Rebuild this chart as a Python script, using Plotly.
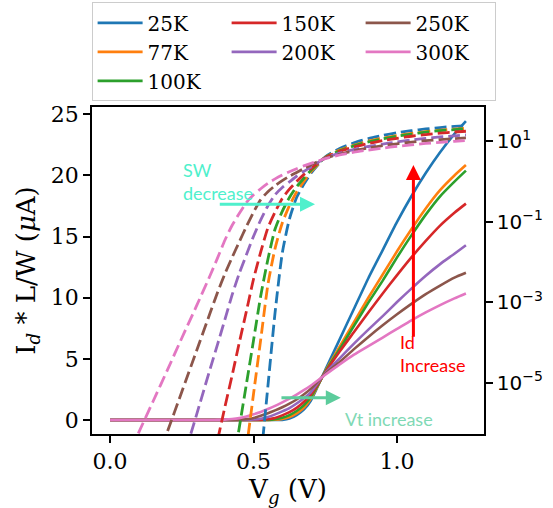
import plotly.graph_objects as go

# Gate voltage grid (V)
V = [0.00, 0.05, 0.10, 0.15, 0.20, 0.25, 0.30, 0.35, 0.375, 0.40, 0.425, 0.45, 0.475,
     0.50, 0.525, 0.55, 0.575, 0.60, 0.625, 0.65, 0.675, 0.70, 0.75, 0.80, 0.85, 0.90,
     0.95, 1.00, 1.05, 1.10, 1.15, 1.20, 1.24]

temps = ["25K", "77K", "100K", "150K", "200K", "250K", "300K"]
colors = ["#1f77b4", "#ff7f0e", "#2ca02c", "#d62728", "#9467bd", "#8c564b", "#e377c2"]

# Id * L/W (uA)
I_25K = [1e-12, 1e-12, 1e-12, 1e-12, 1e-12, 1e-12, 1e-12, 1e-12, 1e-12, 1e-12, 1e-12, 1e-12, 2.5e-11,
         1.8e-9, 1.2e-7, 8.3e-6, 5.6e-4, 0.0166, 0.117, 0.40, 0.85, 1.6, 4.1, 6.6, 9.1, 11.6,
         13.9, 16.2, 18.3, 20.2, 21.9, 23.4, 24.45]
I_77K = [1e-12, 1e-12, 1e-12, 1e-12, 1e-12, 1e-12, 1e-12, 1e-12, 1e-12, 2e-11, 4.5e-10, 1e-8, 2.3e-7,
         5.4e-6, 1.2e-4, 2.75e-3, 0.0219, 0.0933, 0.251, 0.55, 1.0, 1.75, 4.0, 6.0, 8.0, 10.0,
         11.9, 13.8, 15.6, 17.3, 18.8, 20.0, 20.85]
I_100K = [1e-12, 1e-12, 1e-12, 1e-12, 1e-12, 1e-12, 1e-12, 3.2e-11, 4e-10, 5e-9, 6.2e-8, 7.6e-7, 9.3e-6,
          1.15e-4, 1.45e-3, 0.0117, 0.066, 0.182, 0.40, 0.74, 1.2, 1.9, 3.95, 5.8, 7.7, 9.6,
          11.4, 13.3, 15.1, 16.8, 18.3, 19.5, 20.4]
I_150K = [1e-12, 1e-12, 1e-12, 1e-12, 1e-12, 4e-11, 1.6e-9, 6.2e-8, 3.9e-7, 2.5e-6, 1.5e-5, 9.8e-5, 6e-4,
          3.8e-3, 0.0178, 0.0708, 0.174, 0.38, 0.645, 1.0, 1.48, 2.09, 3.9, 5.6, 7.2, 8.8,
          10.35, 11.85, 13.3, 14.65, 15.9, 16.95, 17.7]
I_200K = [1e-12, 1e-12, 2.5e-11, 4e-10, 6.2e-9, 9.8e-8, 1.5e-6, 2.4e-5, 9.3e-5, 3.7e-4, 1.5e-3, 5.2e-3, 0.0151,
          0.0437, 0.112, 0.251, 0.468, 0.708, 0.977, 1.35, 1.78, 2.29, 3.85, 5.05, 6.25, 7.4,
          8.5, 9.65, 10.75, 11.8, 12.75, 13.6, 14.3]
I_250K = [6.8e-11, 6.6e-10, 6.5e-9, 6.3e-8, 6.2e-7, 6.0e-6, 5.9e-5, 5.8e-4, 1.8e-3, 5.1e-3, 0.0129, 0.0316, 0.076,
          0.174, 0.355, 0.56, 0.79, 1.05, 1.35, 1.68, 2.09, 2.57, 3.8, 4.75, 5.8, 6.8,
          7.75, 8.65, 9.5, 10.3, 11.0, 11.65, 12.05]
I_300K = [1.6e-8, 9.5e-8, 5.9e-7, 3.5e-6, 2.1e-5, 1.3e-4, 7.8e-4, 4.9e-3, 0.0129, 0.0347, 0.081, 0.160, 0.30,
          0.47, 0.66, 0.90, 1.16, 1.45, 1.75, 2.08, 2.44, 2.83, 3.7, 4.55, 5.35, 6.05,
          6.75, 7.45, 8.15, 8.8, 9.4, 9.95, 10.35]

series = [I_25K, I_77K, I_100K, I_150K, I_200K, I_250K, I_300K]
# legend fills column-wise in the reference (3 columns)
legend_rank = [1, 4, 7, 2, 5, 3, 6]

left_ticks = [0, 5, 10, 15, 20, 25]
right_ticks = [1e-5, 1e-3, 1e-1, 1e1]
right_labels = ["10<sup>\u22125</sup>", "10<sup>\u22123</sup>", "10<sup>\u22121</sup>", "10<sup>1</sup>"]
x_ticks = [0.0, 0.5, 1.0]
x_labels = ["0.0", "0.5", "1.0"]

fig = go.Figure()
for name, col, I, rk in zip(temps, colors, series, legend_rank):
    fig.add_trace(go.Scatter(x=V, y=I, mode="lines", name=name, legendrank=rk,
                             line=dict(color=col, width=2.6, shape="spline", smoothing=0.6),
                             yaxis="y", hoverinfo="skip"))
for name, col, I in zip(temps, colors, series):
    fig.add_trace(go.Scatter(x=V, y=I, mode="lines", name=name, showlegend=False,
                             line=dict(color=col, width=2.8, dash="12px,5px", shape="spline", smoothing=0.6),
                             yaxis="y2", hoverinfo="skip"))

axis_common = dict(ticks="outside", ticklen=7, tickwidth=1.5, tickcolor="black",
                   showline=True, linecolor="black", linewidth=1.6,
                   showgrid=False, zeroline=False, automargin=False)

fig.update_layout(
    width=553, height=508,
    margin=dict(l=92, r=69, t=107, b=74, autoexpand=False),
    plot_bgcolor="white", paper_bgcolor="white",
    font=dict(family="DejaVu Serif", size=22, color="black"),
    xaxis=dict(range=[-0.063, 1.303], tickvals=x_ticks, ticktext=x_labels, mirror=True,
               title=dict(text="V<sub><i>g</i></sub> (V)", standoff=4), **axis_common),
    yaxis=dict(range=[-1.14, 25.6], tickvals=left_ticks,
               title=dict(text="I<sub><i>d</i></sub> * L/W (<i>\u03bc</i>A)", standoff=8), **axis_common),
    yaxis2=dict(type="log", range=[-6.27, 1.85], overlaying="y", side="right",
                tickvals=right_ticks, ticktext=right_labels,
                tickfont=dict(family="DejaVu Sans", size=20), **axis_common),
    legend=dict(orientation="h", x=-0.001, xanchor="left", y=1.32, yanchor="top",
                bgcolor="white", bordercolor="#cccccc", borderwidth=1,
                font=dict(family="DejaVu Serif", size=20),
                entrywidth=74, entrywidthmode="pixels", itemwidth=45),
    showlegend=True,
)

ann_font = "Lato"
sw_col = "#4ff0cc"
vt_col = "#5ccc9c"
id_col = "#ff0000"
fig.add_annotation(x=0.714, y=17.64, ax=0.377, ay=17.64, xref="x", yref="y", axref="x", ayref="y",
                   text="", showarrow=True, arrowhead=2, arrowsize=1, arrowwidth=3, arrowcolor=sw_col)
fig.add_annotation(x=0.804, y=1.82, ax=0.592, ay=1.82, xref="x", yref="y", axref="x", ayref="y",
                   text="", showarrow=True, arrowhead=2, arrowsize=1, arrowwidth=3, arrowcolor=vt_col)
fig.add_annotation(x=1.057, y=20.85, ax=1.057, ay=6.7, xref="x", yref="y", axref="x", ayref="y",
                   text="", showarrow=True, arrowhead=2, arrowsize=1, arrowwidth=3, arrowcolor=id_col)
fig.add_annotation(x=0.247, y=21.5, xref="x", yref="y", text="SW<br>decrease", showarrow=False,
                   xanchor="left", yanchor="top", align="left",
                   font=dict(family=ann_font, size=18, color=sw_col))
fig.add_annotation(x=0.811, y=1.14, xref="x", yref="y", text="Vt increase", showarrow=False,
                   xanchor="left", yanchor="top", align="left",
                   font=dict(family=ann_font, size=18, color="#7fd9b5"))
fig.add_annotation(x=1.003, y=7.44, xref="x", yref="y", text="Id<br>Increase", showarrow=False,
                   xanchor="left", yanchor="top", align="left",
                   font=dict(family=ann_font, size=18, color=id_col))

fig.write_html("out.html", config={"displayModeBar": False},
               post_script="document.body.style.margin='0';")
